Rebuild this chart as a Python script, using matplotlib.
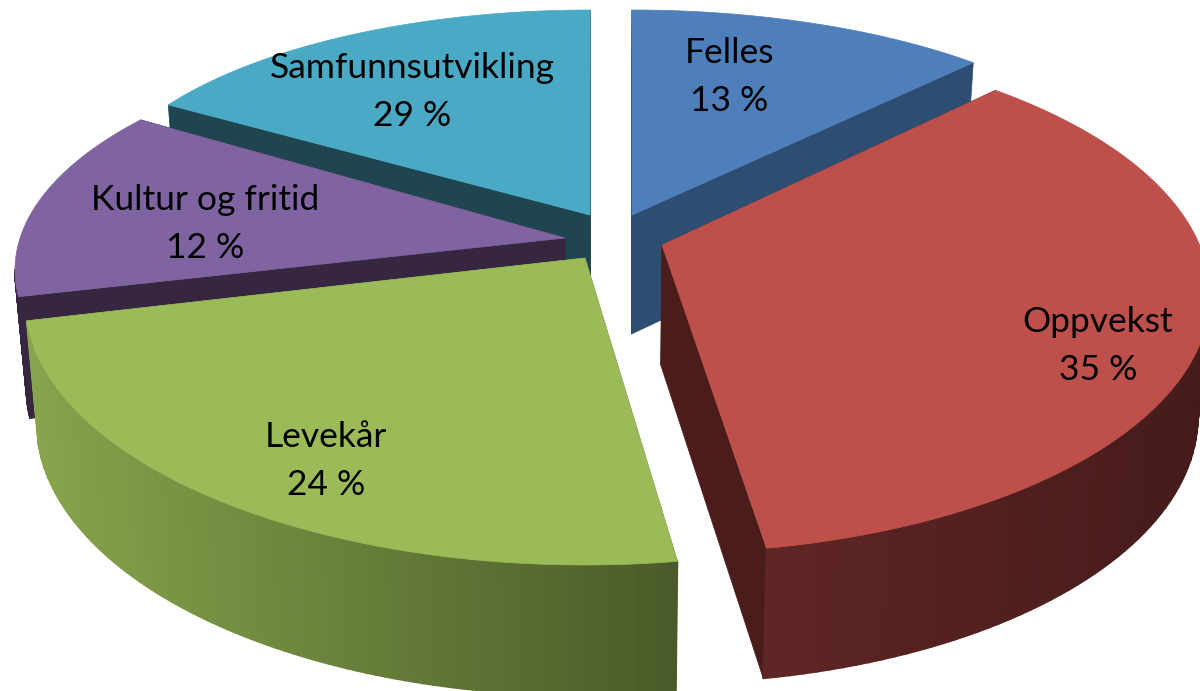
import numpy as np
import matplotlib
matplotlib.use('Agg')
import matplotlib.pyplot as plt
from matplotlib.colors import to_rgb

# norwegian budget shares, drawn widths (they dont follow the labels)
names = ['Felles', 'Oppvekst', 'Levekår', 'Kultur og fritid', 'Samfunnsutvikling']
shares = [13, 35, 24, 12, 29]
spans = [42, 131.5, 95, 46, 57.5]
starts = [90, 52.5, -80.5, -173.5, 147.5]

top_colors = ['#4E7FBB', '#BE504C', '#9BBA58', '#8063A1', '#4AAAC5']
wall_colors = ['#2E4D73', '#4A1D1B', '#5B7033', '#37263F', '#1E4550']
side_from = ['#2E4D73', '#5F2624', '#88A44C', '#37263F', '#1E4550']
side_to = ['#2E4D73', '#451B1A', '#4A5B29', '#37263F', '#1E4550']

apexes = [(632, 215), (662, 245), (585, 258), (565, 238), (590, 215)]
rim_y = [215, 295, 300, 270, 215]
radii_x = [510, 548, 560, 550, 500]
radii_y = [205, 258, 265, 236, 205]
label_pos = [(729, 77), (1098, 346), (326, 461), (205, 224), (412, 92)]
draw_order = [4, 0, 3, 2, 1]


def rim(i, steps=90):
    t = np.radians(np.linspace(starts[i], starts[i] - spans[i], steps))
    x = apexes[i][0] + radii_x[i] * np.cos(t)
    y = rim_y[i] - radii_y[i] * np.sin(t)
    return x, y


def drop(x, y):
    # lower face, a bit narrower and further down towards the viewer
    x = np.asarray(x, dtype=float)
    y = np.asarray(y, dtype=float)
    return x + (600 - x) * 0.02, y + 112 + 0.033 * y


fig = plt.figure(figsize=(12, 6.91), dpi=100)
ax = fig.add_axes([0, 0, 1, 1])
ax.set_xlim(0, 1200)
ax.set_ylim(691, 0)
ax.axis('off')

for i in draw_order:
    x, y = rim(i)
    cx, cy = apexes[i]
    # straight cut walls
    for ex, ey in [(x[0], y[0]), (x[-1], y[-1])]:
        bx, by = drop([cx, ex], [cy, ey])
        ax.fill([cx, ex, bx[1], bx[0]], [cy, ey, by[1], by[0]], color=wall_colors[i], lw=0.5)
    # round outer side, one strip at a time for the shading
    bx, by = drop(x, y)
    c1 = np.array(to_rgb(side_from[i]))
    c2 = np.array(to_rgb(side_to[i]))
    xmin, xmax = x.min(), x.max()
    for k in range(len(x) - 1):
        if y[k] + y[k + 1] < 2 * rim_y[i]:
            continue
        f = (x[k] - xmin) / max(xmax - xmin, 1)
        ax.fill([x[k], x[k + 1], bx[k + 1], bx[k]], [y[k], y[k + 1], by[k + 1], by[k]],
                color=c1 + (c2 - c1) * f, lw=1.2)
    # top face
    ax.fill(np.r_[cx, x], np.r_[cy, y], color=top_colors[i], lw=0.5)

for i in range(len(names)):
    ax.text(label_pos[i][0], label_pos[i][1], '%s\n%d %%' % (names[i], shares[i]),
            ha='center', va='center', fontsize=25.5, family='Lato', color='black',
            linespacing=1.6)

fig.savefig('out.png', dpi=100)
